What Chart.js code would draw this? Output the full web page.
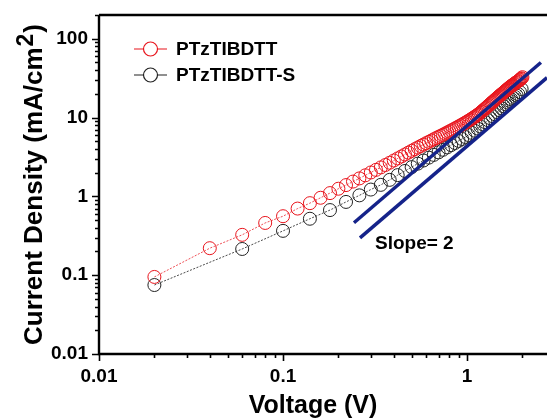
<!DOCTYPE html>
<html>
<head>
<meta charset="utf-8">
<script src="https://cdn.jsdelivr.net/npm/chart.js@4/dist/chart.umd.min.js"></script>
<style>
  html, body { margin: 0; padding: 0; background: #fff; }
  #wrap { width: 547px; height: 419px; }
</style>
</head>
<body>
<div id="wrap"><canvas id="jv-chart" width="547" height="419"></canvas></div>
<script>
// PTzTIBDTT, 0.02 V steps
const voltageRed = [0.02,0.04,0.06,0.08,0.10,0.12,0.14,0.16,0.18,0.20,0.22,0.24,0.26,0.28,0.30,0.32,0.34,0.36,0.38,0.40,
  0.42,0.44,0.46,0.48,0.50,0.52,0.54,0.56,0.58,0.60,0.62,0.64,0.66,0.68,0.70,0.72,0.74,0.76,0.78,0.80,
  0.82,0.84,0.86,0.88,0.90,0.92,0.94,0.96,0.98,1.00,1.02,1.04,1.06,1.08,1.10,1.12,1.14,1.16,1.18,1.20,
  1.22,1.24,1.26,1.28,1.30,1.32,1.34,1.36,1.38,1.40,1.42,1.44,1.46,1.48,1.50,1.52,1.54,1.56,1.58,1.60,
  1.62,1.64,1.66,1.68,1.70,1.72,1.74,1.76,1.78,1.80,1.82,1.84,1.86,1.88,1.90,1.92,1.94,1.96,1.98,2.00];
const densityRed = [0.095,0.22,0.325,0.46,0.56,0.70,0.82,0.96,1.10,1.25,1.39,1.54,1.69,1.85,2.01,2.17,2.33,2.50,2.67,2.85,
  3.03,3.21,3.40,3.59,3.78,3.97,4.16,4.35,4.54,4.73,4.92,5.11,5.30,5.49,5.68,5.87,6.06,6.26,6.46,6.66,
  6.86,7.06,7.27,7.48,7.70,7.92,8.15,8.38,8.62,8.86,9.11,9.37,9.64,9.92,10.2,10.5,10.8,11.1,11.5,11.9,
  12.3,12.7,13.1,13.5,14.0,14.4,14.9,15.4,15.8,16.3,16.8,17.3,17.8,18.3,18.8,19.3,19.8,20.3,20.8,21.4,
  21.9,22.4,23.0,23.5,24.1,24.6,25.1,25.6,26.1,26.6,27.1,27.6,28.1,28.6,29.1,29.7,30.3,30.9,31.5,32.5];

// PTzTIBDTT-S, 0.04 V steps
const voltageBlack = [0.02,0.06,0.10,0.14,0.18,0.22,0.26,0.30,0.34,0.38,0.42,0.46,0.50,0.54,0.58,0.62,0.66,0.70,0.74,0.78,
  0.82,0.86,0.90,0.94,0.98,1.02,1.06,1.10,1.14,1.18,1.22,1.26,1.30,1.34,1.38,1.42,1.46,1.50,1.54,1.58,
  1.62,1.66,1.70,1.74,1.78,1.82,1.86,1.90,1.94,1.98];
const densityBlack = [0.075,0.215,0.365,0.52,0.67,0.85,1.03,1.22,1.40,1.62,1.86,2.10,2.35,2.60,2.85,3.10,3.36,3.62,3.90,4.18,
  4.47,4.76,5.05,5.35,5.66,6.00,6.40,6.80,7.25,7.70,8.20,8.70,9.25,9.80,10.4,11.0,11.7,12.4,13.1,13.9,
  14.7,15.5,16.3,17.0,17.7,18.3,19.0,19.8,21.0,23.0];

// slope = 2 guide lines (end points)
const slopeUpperV = [0.243, 2.52];
const slopeUpperJ = [0.462, 49.9];
const slopeLowerV = [0.262, 2.72];
const slopeLowerJ = [0.298, 32.1];

const seriesNames = ['PTzTIBDTT', 'PTzTIBDTT-S'];
const xTickLabels = ['0.01', '0.1', '1'];
const yTickLabels = ['0.01', '0.1', '1', '10', '100'];

const FONT = 'Arial, "Liberation Sans", sans-serif';
const RED = '#e8141c';
const BLACK = '#222222';
const NAVY = '#15238a';

function toPoints(xs, ys) {
    return xs.map((x, i) => ({ x: x, y: ys[i] }));
}

function tickLabel(list) {
    return function (value) {
        const found = list.find(t => Math.abs(parseFloat(t) - value) < 1e-9 * Math.max(1, value));
        return found === undefined ? null : found;
    };
}

// axis frame, tick marks, legend, annotation, axis titles
const decorations = {
    id: 'decorations',
    afterDraw(chart) {
        const ctx = chart.ctx;
        const a = chart.chartArea;
        const x = chart.scales.x;
        const y = chart.scales.y;
        ctx.save();
        ctx.strokeStyle = '#000';
        ctx.lineWidth = 2.4;
        ctx.beginPath();
        ctx.moveTo(a.left, a.top);
        ctx.lineTo(a.right, a.top);
        ctx.moveTo(a.left, a.top);
        ctx.lineTo(a.left, a.bottom);
        ctx.lineTo(a.right, a.bottom);
        ctx.stroke();

        ctx.lineWidth = 1.6;
        ctx.beginPath();
        [0.01, 0.1, 1].forEach(d => {
            for (let m = 1; m <= 9; m++) {
                const v = d * m;
                if (v > x.max) break;
                const px = Math.round(x.getPixelForValue(v)) + 0.5;
                const len = m === 1 ? 7 : 4;
                ctx.moveTo(px, a.bottom);
                ctx.lineTo(px, a.bottom + len);
            }
        });
        [0.01, 0.1, 1, 10, 100].forEach(d => {
            for (let m = 1; m <= 9; m++) {
                const v = d * m;
                if (v > y.max) break;
                const py = Math.round(y.getPixelForValue(v)) + 0.5;
                const len = m === 1 ? 7 : 4;
                ctx.moveTo(a.left, py);
                ctx.lineTo(a.left - len, py);
            }
        });
        ctx.stroke();

        // legend
        const legendRows = [[seriesNames[0], RED, 49], [seriesNames[1], BLACK, 75]];
        legendRows.forEach(([name, color, ly]) => {
            ctx.strokeStyle = color;
            ctx.lineWidth = 1.2;
            ctx.beginPath();
            ctx.moveTo(134, ly);
            ctx.lineTo(143.5, ly);
            ctx.moveTo(157.5, ly);
            ctx.lineTo(167, ly);
            ctx.stroke();
            ctx.beginPath();
            ctx.arc(150.5, ly, 7, 0, Math.PI * 2);
            ctx.stroke();
            ctx.fillStyle = '#000';
            ctx.font = 'bold 19px ' + FONT;
            ctx.textAlign = 'left';
            ctx.textBaseline = 'middle';
            ctx.fillText(name, 176, ly + 1);
        });

        // slope annotation
        ctx.font = 'bold 19px ' + FONT;
        ctx.textAlign = 'left';
        ctx.textBaseline = 'middle';
        ctx.fillText('Slope= 2', x.getPixelForValue(0.316), y.getPixelForValue(0.25));

        // x axis title
        ctx.font = 'bold 25px ' + FONT;
        ctx.textAlign = 'center';
        ctx.textBaseline = 'alphabetic';
        ctx.fillText('Voltage (V)', 313, 413);

        // y axis title with superscript
        ctx.translate(42, (a.top + a.bottom) / 2);
        ctx.rotate(-Math.PI / 2);
        const main = 'Current Density (mA/cm';
        ctx.font = 'bold 26px ' + FONT;
        const wMain = ctx.measureText(main).width;
        const wEnd = ctx.measureText(')').width;
        ctx.font = 'bold 23px ' + FONT;
        const wSup = ctx.measureText('2').width;
        const sx = -(wMain + wSup + wEnd + 2) / 2;
        ctx.textAlign = 'left';
        ctx.fillText('2', sx + wMain + 1, -9);
        ctx.font = 'bold 26px ' + FONT;
        ctx.fillText(main, sx, 0);
        ctx.fillText(')', sx + wMain + wSup + 2, 0);
        ctx.restore();
    }
};

const ctx = document.getElementById('jv-chart').getContext('2d');

const chart = new Chart(ctx, {
    type: 'line',
    data: {
        datasets: [
            {
                label: 'slope upper',
                data: toPoints(slopeUpperV, slopeUpperJ),
                borderColor: NAVY,
                borderWidth: 3.5,
                pointRadius: 0,
                order: 0
            },
            {
                label: 'slope lower',
                data: toPoints(slopeLowerV, slopeLowerJ),
                borderColor: NAVY,
                borderWidth: 3.5,
                pointRadius: 0,
                order: 0
            },
            {
                label: seriesNames[0],
                data: toPoints(voltageRed, densityRed),
                borderColor: 'rgba(232,20,28,0.75)',
                borderWidth: 1,
                borderDash: [2, 1.5],
                pointRadius: 6.5,
                pointBorderWidth: 1,
                pointBorderColor: RED,
                pointBackgroundColor: 'rgba(0,0,0,0)',
                order: 1
            },
            {
                label: seriesNames[1],
                data: toPoints(voltageBlack, densityBlack),
                borderColor: 'rgba(30,30,30,0.8)',
                borderWidth: 1,
                borderDash: [2, 1.5],
                pointRadius: 6.5,
                pointBorderWidth: 1,
                pointBorderColor: BLACK,
                pointBackgroundColor: 'rgba(0,0,0,0)',
                order: 2
            }
        ]
    },
    options: {
        responsive: false,
        animation: false,
        layout: { autoPadding: false, padding: { top: 15, left: 0, right: 0, bottom: 0 } },
        plugins: {
            legend: { display: false },
            tooltip: { enabled: false }
        },
        scales: {
            x: {
                type: 'logarithmic',
                min: 0.01,
                max: 2.72,
                grid: { display: false, drawTicks: false },
                border: { display: false },
                ticks: {
                    autoSkip: false,
                    maxRotation: 0,
                    padding: 11,
                    color: '#000',
                    font: { family: FONT, weight: 'bold', size: 19 },
                    callback: tickLabel(xTickLabels)
                },
                afterFit: s => { s.height = 65; s.paddingLeft = 0; s.paddingRight = 0; }
            },
            y: {
                type: 'logarithmic',
                min: 0.01,
                max: 200,
                grid: { display: false, drawTicks: false },
                border: { display: false },
                ticks: {
                    autoSkip: false,
                    padding: 11,
                    color: '#000',
                    font: { family: FONT, weight: 'bold', size: 19 },
                    callback: tickLabel(yTickLabels)
                },
                afterFit: s => { s.width = 99; s.paddingTop = 0; s.paddingBottom = 0; }
            }
        }
    },
    plugins: [decorations]
});
</script>
</body>
</html>
